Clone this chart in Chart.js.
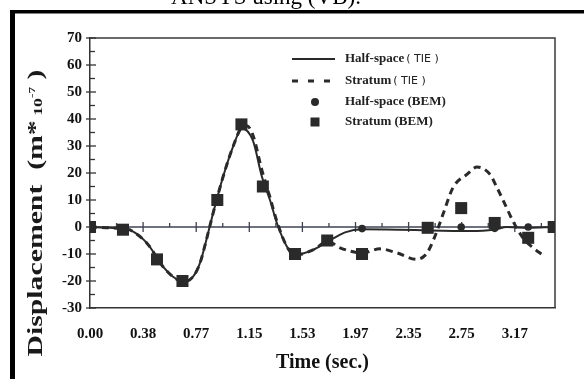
<!DOCTYPE html>
<html><head><meta charset="utf-8">
<script src="https://cdn.jsdelivr.net/npm/chart.js@4"></script>
<style>html,body{margin:0;padding:0;background:#fff}canvas{display:block}</style>
</head><body>
<canvas id="c" width="584" height="379"></canvas>
<script>
// ---- data ----
const tickLabels = ['0.00','0.38','0.77','1.15','1.53','1.97','2.35','2.75','3.17'];
const tickStep = 3.17 / 8;            // spacing of the printed time ticks (s)
const yMin = -30, yMax = 70, yStep = 10;

const halfTieT = [0,0.149,0.254,0.298,0.425,0.545,0.619,0.694,0.769,0.821,0.881,0.918,0.993,1.067,1.134,1.216,1.283,1.343,1.395,1.470,1.530,1.664,1.776,1.903,2.030,2.313,2.537,2.836,3.015,3.112,3.268,3.462];
const halfTieV = [0,-0.3,-0.7,-1.1,-6,-14.7,-18.4,-20.3,-18.4,-13.3,-2.3,5,18.6,29.7,36.5,32,18.6,10,1.4,-7.3,-10.4,-8.5,-5.4,-2,-0.8,-1,-1.3,-1.5,-1,0,-0.3,0];

const stratTieT = [0,0.149,0.254,0.298,0.425,0.545,0.619,0.694,0.769,0.821,0.881,0.918,0.993,1.067,1.134,1.17,1.216,1.283,1.343,1.395,1.470,1.530,1.664,1.776,1.866,2.030,2.164,2.291,2.440,2.500,2.537,2.589,2.634,2.709,2.813,2.888,2.985,3.037,3.097,3.156,3.231,3.306,3.380];
const stratTieV = [0,-0.3,-0.7,-1.1,-6,-14.7,-18.4,-20.3,-18.4,-13.3,-2.3,5,18.6,29.7,37,37.5,34,21,11,2,-7.3,-10.4,-8.5,-5.4,-7.7,-9.6,-8.1,-9.6,-12,-10.5,-7.7,-1.5,4.7,14.6,19.5,22.2,19.5,14.6,8.4,2.2,-4,-7.7,-10.4];

const bemT = [0,0.246,0.50,0.69,0.95,1.13,1.29,1.53,1.77,2.03,2.52,2.77,3.02,3.27,3.46];
const halfBemV = [0,-1,-12,-20,10,38,15,-10,-5,-0.6,-0.3,0,-0.5,0,0];
const stratBemV = [0,-1,-12,-20,10,38,15,-10,-5,-10,-0.3,7,1.5,-4,0];

const seriesNames = ['Half-space', 'Stratum', 'Half-space (BEM)', 'Stratum (BEM)'];
const pageTitle = 'ANSYS using (VB).';

// ---- build datasets ----
const pts = (t, v) => t.map((x, i) => ({x, y: v[i]}));
const INK = '#2a2a2a';
const SERIF = "'Liberation Serif','Times New Roman',serif";

const decor = {
  id: 'decor',
  beforeDatasetsDraw(chart) {
    const {ctx, chartArea: ca, scales: {x, y}} = chart;
    ctx.save();
    // top & right frame of plot
    ctx.strokeStyle = '#3a3a3a'; ctx.lineWidth = 1.5;
    ctx.beginPath();
    ctx.moveTo(ca.left, ca.top); ctx.lineTo(ca.right, ca.top); ctx.lineTo(ca.right, ca.bottom);
    ctx.stroke();
    // y-axis ticks
    ctx.lineWidth = 1.3; ctx.strokeStyle = '#333';
    for (let v = yMin; v <= yMax; v += yStep) {
      const py = y.getPixelForValue(v);
      ctx.beginPath(); ctx.moveTo(ca.left - 4, py); ctx.lineTo(ca.left + 6, py); ctx.stroke();
      if (v < yMax) {
        const pm = y.getPixelForValue(v + yStep / 2);
        ctx.beginPath(); ctx.moveTo(ca.left, pm); ctx.lineTo(ca.left + 5, pm); ctx.stroke();
      }
    }
    // zero line with ticks
    const y0 = y.getPixelForValue(0);
    ctx.strokeStyle = '#3c4350'; ctx.lineWidth = 1.5;
    ctx.beginPath(); ctx.moveTo(ca.left, y0); ctx.lineTo(ca.right, y0); ctx.stroke();
    ctx.lineWidth = 1.3;
    tickLabels.forEach((l, i) => {
      const px = x.getPixelForValue(i * tickStep);
      ctx.beginPath(); ctx.moveTo(px, y0 - 5); ctx.lineTo(px, y0 + 5); ctx.stroke();
      const pm = x.getPixelForValue((i + 0.5) * tickStep);
      if (pm < ca.right - 2) { ctx.beginPath(); ctx.moveTo(pm, y0 - 4); ctx.lineTo(pm, y0); ctx.stroke(); }
    });
    ctx.restore();
  },
  afterDraw(chart) {
    const {ctx} = chart;
    ctx.save();
    // outer frame (cut figure border)
    ctx.fillStyle = '#000';
    ctx.fillRect(10, 10, 574, 3.5);
    ctx.fillRect(10, 10, 5, 369);
    // page title fragment
    ctx.font = '23px ' + SERIF; ctx.textAlign = 'center'; ctx.textBaseline = 'alphabetic';
    ctx.fillText(pageTitle, 266, 3.5);

    // legend
    const lx0 = 292, lx1 = 335, tx = 345, rows = [59, 81, 102, 122];
    ctx.strokeStyle = INK; ctx.fillStyle = INK;
    ctx.lineWidth = 2; ctx.beginPath(); ctx.moveTo(lx0, rows[0]); ctx.lineTo(lx1, rows[0]); ctx.stroke();
    ctx.lineWidth = 3; ctx.setLineDash([6, 10]); ctx.beginPath(); ctx.moveTo(lx0, rows[1]); ctx.lineTo(lx1, rows[1]); ctx.stroke();
    ctx.setLineDash([]);
    ctx.beginPath(); ctx.arc(315, rows[2], 4, 0, Math.PI * 2); ctx.fill();
    ctx.fillRect(315 - 4.5, rows[3] - 4.5, 9, 9);
    ctx.fillStyle = '#222'; ctx.textAlign = 'left'; ctx.textBaseline = 'middle';
    const drawItem = (name, tag, yy) => {
      ctx.font = 'bold 13px ' + SERIF;
      ctx.fillText(name, tx, yy);
      if (tag) {
        const w = ctx.measureText(name).width;
        ctx.font = '11px ' + "'DejaVu Sans',sans-serif";
        ctx.fillText(tag, tx + w + 2, yy);
      }
    };
    drawItem(seriesNames[0], '( TIE )', rows[0]);
    drawItem(seriesNames[1], '( TIE )', rows[1]);
    drawItem(seriesNames[2], null, rows[2]);
    drawItem(seriesNames[3], null, rows[3]);

    // y-axis title with exponent
    const parts = [
      {t: 'Displacement  (m', f: 'bold 20px ' + SERIF, dy: 0},
      {t: '*', f: 'bold 20px ' + SERIF, dy: 0},
      {t: ' 10', f: 'bold 12px ' + SERIF, dy: 0},
      {t: '-7', f: 'bold 9px ' + SERIF, dy: -7},
      {t: ' )', f: 'bold 20px ' + SERIF, dy: 0}
    ];
    let total = 0;
    parts.forEach(p => { ctx.font = p.f; p.w = ctx.measureText(p.t).width; total += p.w; });
    const targetLen = 287, sx = targetLen / total;
    ctx.translate(42, 213);
    ctx.rotate(-Math.PI / 2);
    ctx.scale(sx, 1);
    ctx.textAlign = 'left'; ctx.textBaseline = 'alphabetic'; ctx.fillStyle = '#1a1a1a';
    let cx = -total / 2;
    parts.forEach(p => { ctx.font = p.f; ctx.fillText(p.t, cx, p.dy); cx += p.w; });
    ctx.restore();
  }
};

new Chart(document.getElementById('c'), {
  type: 'scatter',
  data: {
    datasets: [
      {label: seriesNames[3] , data: pts(bemT, stratBemV), pointStyle: 'rect', pointRadius: 8.5, pointHoverRadius: 8.5,
       backgroundColor: INK, borderColor: INK, borderWidth: 0, showLine: false, order: 0},
      {label: seriesNames[2], data: pts(bemT, halfBemV), pointStyle: 'circle', pointRadius: 3.8, pointHoverRadius: 3.8,
       backgroundColor: INK, borderColor: INK, borderWidth: 0, showLine: false, order: 1},
      {label: seriesNames[1] + ' (TIE)', data: pts(stratTieT, stratTieV), showLine: true, pointRadius: 0,
       borderColor: INK, borderWidth: 3, borderDash: [7, 5], cubicInterpolationMode: 'monotone', order: 2},
      {label: seriesNames[0] + ' (TIE)', data: pts(halfTieT, halfTieV), showLine: true, pointRadius: 0,
       borderColor: INK, borderWidth: 2, cubicInterpolationMode: 'monotone', order: 3}
    ]
  },
  options: {
    responsive: false, animation: false, devicePixelRatio: 1,
    layout: {padding: {left: 0, right: 29, top: 38, bottom: 0}},
    plugins: {legend: {display: false}, tooltip: {enabled: false}},
    scales: {
      x: {
        type: 'linear', min: 0, max: 3.47,
        afterFit: s => { s.height = 71; },
        afterBuildTicks: s => { s.ticks = tickLabels.map((l, i) => ({value: i * tickStep})); },
        grid: {display: false, drawTicks: false, tickLength: 0},
        border: {display: true, color: '#333', width: 1.5},
        ticks: {autoSkip: false, maxRotation: 0, padding: 17, color: '#111',
                font: {family: SERIF, size: 15, weight: 'bold'},
                callback: (v, i) => tickLabels[i]},
        title: {display: true, text: 'Time (sec.)', color: '#111',
                font: {family: SERIF, size: 20, weight: 'bold'}, padding: {top: 0, bottom: 4}}
      },
      y: {
        min: yMin, max: yMax,
        afterFit: s => { s.width = 90; },
        grid: {display: false, drawTicks: false, tickLength: 0},
        border: {display: true, color: '#333', width: 1.5},
        ticks: {stepSize: yStep, padding: 8, color: '#111',
                font: {family: SERIF, size: 15, weight: 'bold'}}
      }
    }
  },
  plugins: [decor]
});
</script>
</body></html>
